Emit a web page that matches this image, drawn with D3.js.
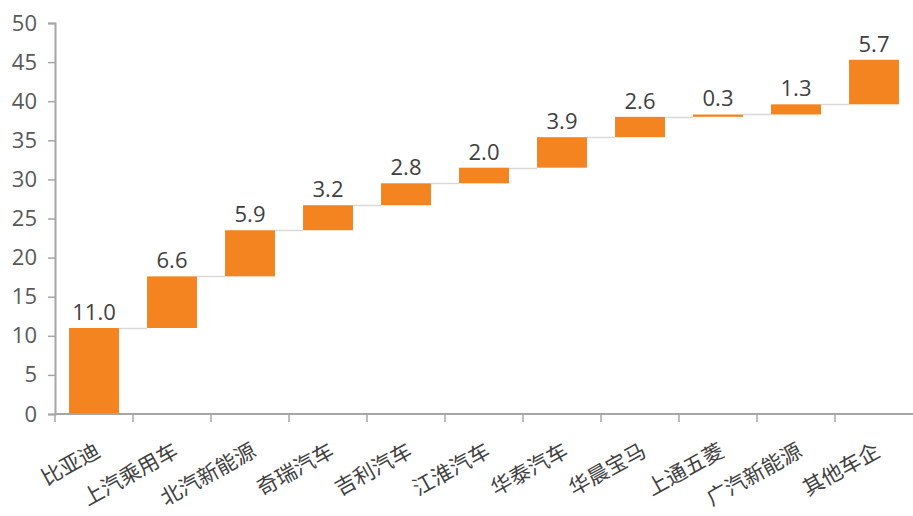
<!DOCTYPE html>
<html><head><meta charset="utf-8">
<script src="https://cdn.jsdelivr.net/npm/d3@7"></script>
<style>body{margin:0;background:#fff}svg{display:block}</style>
</head><body><svg id="c" width="913" height="516"></svg>
<script>
const categories = ["比亚迪","上汽乘用车","北汽新能源","奇瑞汽车","吉利汽车","江淮汽车","华泰汽车","华晨宝马","上通五菱","广汽新能源","其他车企"];
const values = [11.0, 6.6, 5.9, 3.2, 2.8, 2.0, 3.9, 2.6, 0.3, 1.3, 5.7];
const yTicks = [0,5,10,15,20,25,30,35,40,45,50];

let acc = 0;
const rows = categories.map((c,i)=>{const s=acc; acc+=values[i]; return {c, v:values[i], start:s, end:acc};});

const svg = d3.select("#c");
const x = d3.scaleBand().domain(categories).range([55, 913]).paddingInner(0.36).paddingOuter(0.18);
const y = d3.scaleLinear().domain([0,50]).range([414, 23]);
const font = "'Open Sans','Noto Sans CJK SC',sans-serif";

// connectors
svg.append("g").selectAll("line").data(rows.slice(0,-1)).join("line")
  .attr("x1", d=>x(d.c)+x.bandwidth())
  .attr("x2", (d,i)=>x(rows[i+1].c))
  .attr("y1", d=>Math.round(y(d.end))+0.5).attr("y2", d=>Math.round(y(d.end))+0.5)
  .attr("stroke","#d9d9d9").attr("stroke-width",1.5);

// bars
svg.append("g").selectAll("rect").data(rows).join("rect")
  .attr("x", d=>x(d.c)).attr("width", x.bandwidth())
  .attr("y", d=>y(d.end)).attr("height", d=>Math.max(1.5, y(d.start)-y(d.end)))
  .attr("fill","#f48420");

// value labels
svg.append("g").selectAll("text").data(rows).join("text")
  .attr("x", d=>x(d.c)+x.bandwidth()/2).attr("y", d=>y(d.end)-8)
  .attr("text-anchor","middle").attr("font-family",font).attr("font-size",22)
  .attr("fill","#404040").text(d=>d.v.toFixed(1));

// y axis
const ya = svg.append("g").attr("transform","translate(55,0)")
  .call(d3.axisLeft(y).tickValues(yTicks).tickSize(7).tickPadding(11));
ya.select(".domain").attr("stroke","#a6a6a6").attr("stroke-width",2);
ya.selectAll(".tick line").attr("stroke","#a6a6a6").attr("stroke-width",1.5);
ya.selectAll("text").attr("font-family",font).attr("font-size",22).attr("fill","#595959");

// x axis
const xa = svg.append("g").attr("transform","translate(0,414)");
xa.append("line").attr("x1",55).attr("x2",913).attr("stroke","#a6a6a6").attr("stroke-width",2);
xa.selectAll("line.t").data(categories).join("line").attr("class","t")
  .attr("x1",(d,i)=>i===0?55:x(d)-(x.step()-x.bandwidth())/2)
  .attr("x2",(d,i)=>i===0?55:x(d)-(x.step()-x.bandwidth())/2)
  .attr("y1",0).attr("y2",8).attr("stroke","#a6a6a6").attr("stroke-width",1.5);
xa.selectAll("text").data(categories).join("text")
  .attr("transform", d=>`translate(${x(d)+x.bandwidth()/2+4},${35}) rotate(-29)`)
  .attr("text-anchor","end").attr("dy","0.35em")
  .attr("font-family",font).attr("font-size",21).attr("fill","#404040").text(d=>d);
</script></body></html>
